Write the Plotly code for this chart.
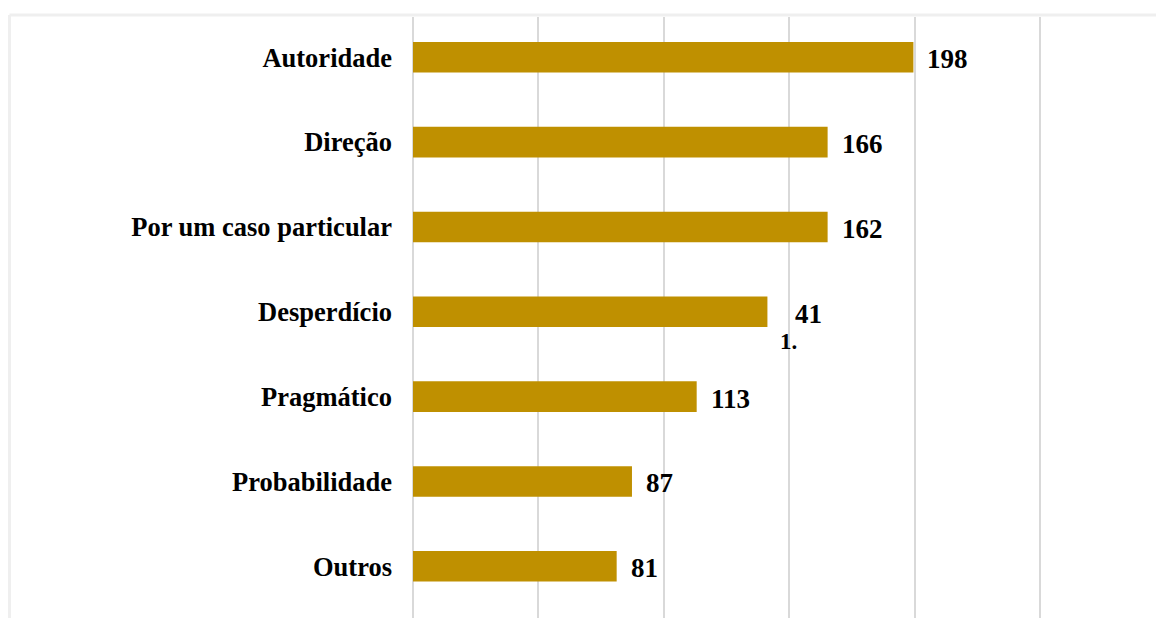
import plotly.graph_objects as go

categories = ['Autoridade', 'Direção', 'Por um caso particular', 'Desperdício',
              'Pragmático', 'Probabilidade', 'Outros']
# bar lengths as drawn in the picture
values = [199.5, 165.3, 165.3, 141.3, 113.1, 87.3, 81.2]
# the labels as they show in the picture (the 141 label is split up in the original)
labels = ['198', '166', '162', '41', '113', '87', '81']

W, H = 1164, 618
BAR = '#BF9000'
GRID = '#D9D9D9'
FONT = 'Liberation Serif'
L, T = 405, 9  # page body adds 8px

fig = go.Figure(go.Bar(
    x=values, y=categories, orientation='h',
    marker=dict(color=BAR, line=dict(width=0)),
    width=0.36, hoverinfo='y'))

# value labels, placed from the data values
for cat, val, lab in zip(categories, values, labels):
    shift = 26 if lab == '41' else 12
    fig.add_annotation(x=val, y=cat, text='<b>%s</b>' % lab, showarrow=False,
                       xanchor='left', xshift=shift, yshift=-2,
                       font=dict(family=FONT, size=27, color='black'))
    if lab == '41':
        fig.add_annotation(x=val, y=cat, text='<b>1.</b>', showarrow=False,
                           xanchor='left', xshift=11, yshift=-30,
                           font=dict(family=FONT, size=23, color='black'))

# light frame of the original chart area
pw, ph = W - L, H - T
fx = (1.5 - L) / pw
fy = 1 + 2 / ph
fig.add_shape(type='line', xref='paper', yref='paper', x0=fx, x1=1, y0=fy, y1=fy,
              line=dict(color='#EFEFEF', width=3))
fig.add_shape(type='line', xref='paper', yref='paper', x0=fx, x1=fx,
              y0=-0.05, y1=fy, line=dict(color='#EFEFEF', width=3))

fig.update_xaxes(range=[0, 302.6], dtick=50, showgrid=True, gridcolor=GRID, gridwidth=1.5,
                 zeroline=True, zerolinecolor=GRID, zerolinewidth=2, showticklabels=False,
                 showline=False, fixedrange=True)
fig.update_yaxes(range=[6.704, -0.475], showgrid=False, zeroline=False, showline=False,
                 ticks='', ticklabelstandoff=20,
                 tickfont=dict(family=FONT, size=26.5, color='black'),
                 tickprefix='<b>', ticksuffix='</b>')

fig.update_layout(
    width=W, height=H,
    margin=dict(l=L, r=0, t=T, b=0),
    paper_bgcolor='white', plot_bgcolor='white',
    showlegend=False, font_family=FONT)

fig.write_html('out.html')
